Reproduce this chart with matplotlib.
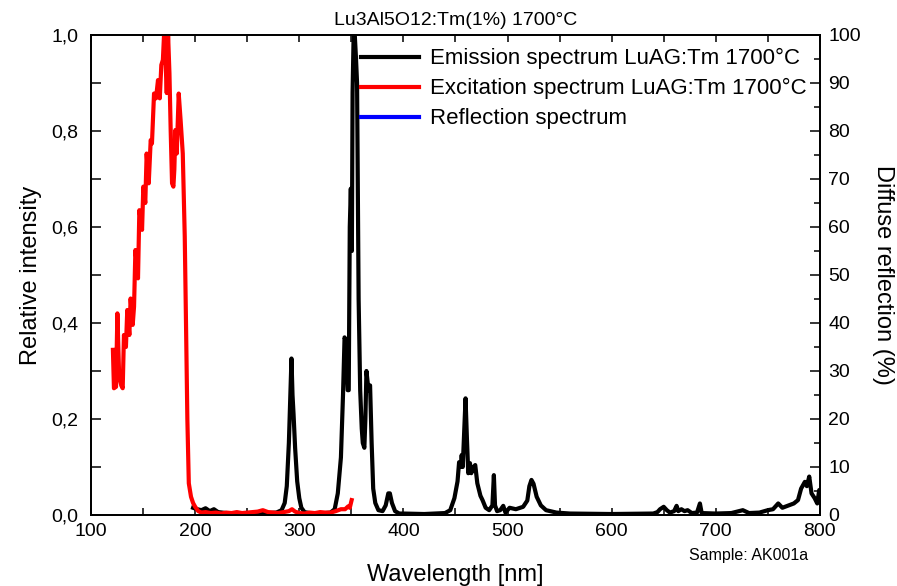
import matplotlib
matplotlib.use("Agg")
import matplotlib.pyplot as plt
from matplotlib.ticker import MultipleLocator, FuncFormatter

plt.rcParams['font.family'] = ['Liberation Sans', 'DejaVu Sans']

# Emission spectrum (nm, relative intensity)
em_wl = [198, 202, 206, 210, 214, 218, 222, 230, 240, 250, 260, 270, 278, 283, 286, 288, 290, 291.5,
         292.5, 293.5, 294.5, 296, 298, 300, 302, 305, 310, 320, 330, 334, 337, 340, 342, 343.5, 345,
         346.5, 347.5, 348.5, 349.5, 350.5, 351.2, 352.2, 353.3, 354.5, 355.5, 357, 358.5, 360, 361,
         362.5, 363.5, 364.5, 365.5, 366.5, 368, 369.5, 371, 373, 376, 380, 383, 385.5, 387, 389, 392,
         396, 400, 420, 440, 445, 449, 452, 453.5, 455, 456, 457, 458.5, 459.7, 461, 462.3, 463.9,
         465.2, 467.4, 469, 471, 474, 476, 479, 482.4, 485.5, 486.9, 488, 490, 493, 495.9, 498, 502,
         508, 515, 519, 521, 523, 525, 528, 532, 537, 547, 560, 600, 640, 644, 646.5, 650, 653, 656,
         660, 662.4, 664, 667, 670, 673, 677, 682, 684.8, 686.5, 700, 715, 726, 732, 742, 750, 755,
         760, 764, 770, 775, 779, 782, 785.6, 787.5, 789.8, 792, 795, 797.5, 799.4, 801]
em_int = [0.015, 0.012, 0.010, 0.014, 0.008, 0.012, 0.006, 0.004, 0.003, 0.004, 0.003, 0.004, 0.005,
          0.010, 0.025, 0.060, 0.15, 0.26, 0.326, 0.25, 0.21, 0.14, 0.07, 0.035, 0.015, 0.006, 0.004,
          0.003, 0.005, 0.012, 0.045, 0.12, 0.25, 0.37, 0.36, 0.26, 0.26, 0.60, 0.68, 0.55, 0.88, 1.0,
          1.0, 0.95, 0.90, 0.45, 0.26, 0.18, 0.15, 0.14, 0.20, 0.30, 0.28, 0.26, 0.27, 0.15, 0.055,
          0.025, 0.010, 0.008, 0.02, 0.045, 0.045, 0.025, 0.008, 0.003, 0.003, 0.002, 0.004, 0.010,
          0.035, 0.07, 0.11, 0.10, 0.125, 0.10, 0.18, 0.243, 0.16, 0.087, 0.108, 0.087, 0.10, 0.104,
          0.066, 0.04, 0.031, 0.015, 0.010, 0.02, 0.083, 0.02, 0.008, 0.010, 0.019, 0.005, 0.015,
          0.012, 0.017, 0.03, 0.06, 0.073, 0.065, 0.038, 0.02, 0.010, 0.005, 0.003, 0.002, 0.003,
          0.006, 0.012, 0.017, 0.010, 0.005, 0.008, 0.019, 0.008, 0.012, 0.008, 0.010, 0.004, 0.005,
          0.024, 0.004, 0.003, 0.004, 0.010, 0.004, 0.005, 0.010, 0.012, 0.024, 0.015, 0.020, 0.024,
          0.031, 0.055, 0.069, 0.06, 0.08, 0.045, 0.035, 0.024, 0.052, 0.045]

# Excitation spectrum (nm, relative intensity)
ex_wl = [121, 122, 124, 125.3, 127, 129, 130.4, 131.6, 133.5, 134.8, 136.8, 138, 140, 141.3, 142.6,
         144, 145.1, 146.4, 149, 150.2, 152.1, 153.4, 155.4, 157.3, 158.5, 160.5, 162.4, 164.3, 166,
         167.5, 169, 170.1, 171.5, 172.7, 174, 175.3, 176.5, 177.8, 179.1, 180, 181, 182.3, 184.2, 186,
         188.1, 190, 191.3, 192.5, 193.9, 196, 198, 200, 203, 206, 210, 215, 220, 225, 230, 235, 240,
         245, 250, 255, 260, 265, 270, 275, 280, 285, 290, 293, 296, 300, 305, 310, 315, 320, 325, 330,
         335, 340, 344, 347, 348.5, 350.3]
ex_int = [0.344, 0.264, 0.267, 0.42, 0.288, 0.27, 0.264, 0.375, 0.35, 0.427, 0.375, 0.451, 0.396,
          0.434, 0.552, 0.52, 0.493, 0.635, 0.594, 0.684, 0.65, 0.753, 0.691, 0.781, 0.774, 0.878,
          0.868, 0.906, 0.868, 0.9375, 0.948, 1.0, 0.95, 0.879, 1.0, 0.92, 0.80, 0.691, 0.684, 0.72,
          0.802, 0.753, 0.878, 0.823, 0.753, 0.58, 0.385, 0.20, 0.066, 0.038, 0.025, 0.017, 0.008,
          0.005, 0.006, 0.004, 0.005, 0.003, 0.005, 0.004, 0.006, 0.004, 0.005, 0.006, 0.007, 0.010,
          0.006, 0.005, 0.004, 0.006, 0.008, 0.012, 0.007, 0.004, 0.003, 0.005, 0.004, 0.006, 0.005,
          0.005, 0.008, 0.012, 0.012, 0.018, 0.015, 0.031]

# Reflection spectrum (no visible data)
refl_wl = []
refl_val = []

x_ticks = [100, 200, 300, 400, 500, 600, 700, 800]
y_ticks = [0.0, 0.2, 0.4, 0.6, 0.8, 1.0]
y2_ticks = [0, 10, 20, 30, 40, 50, 60, 70, 80, 90, 100]

fig = plt.figure(figsize=(8.97, 5.86), dpi=100)
ax = fig.add_axes([0.1015, 0.1212, 0.8125, 0.8191])
ax2 = ax.twinx()

l1, = ax.plot(em_wl, em_int, color='black', lw=3.0, label='Emission spectrum LuAG:Tm 1700°C', zorder=2)
l2, = ax.plot(ex_wl, ex_int, color='#ff0000', lw=3.0, label='Excitation spectrum LuAG:Tm 1700°C', zorder=3)
l3, = ax2.plot(refl_wl, refl_val, color='#0000ff', lw=3.0, label='Reflection spectrum')

ax.set_xlim(100, 800)
ax.set_ylim(0, 1.0)
ax2.set_ylim(0, 100)
ax.set_xticks(x_ticks)
ax.xaxis.set_minor_locator(MultipleLocator(50))
ax.set_yticks(y_ticks)
ax.yaxis.set_minor_locator(MultipleLocator(0.1))
ax.yaxis.set_major_formatter(FuncFormatter(lambda v, p: f"{v:.1f}".replace('.', ',')))
ax2.set_yticks(y2_ticks)
ax2.yaxis.set_minor_locator(MultipleLocator(5))

ax.tick_params(axis='both', which='both', direction='in', labelsize=14, width=1.1)
ax.tick_params(axis='x', which='both', top=True, length=5)
ax.tick_params(axis='y', which='both', right=False, length=7)
ax.tick_params(axis='x', which='major', pad=6)
ax.tick_params(axis='y', which='major', pad=9)
ax2.tick_params(axis='y', which='major', direction='in', length=7, width=1.1, labelsize=14, pad=6)
ax2.tick_params(axis='y', which='minor', direction='in', length=4, width=1.1)

for a in (ax, ax2):
    for s in a.spines.values():
        s.set_linewidth(1.3)

ax.set_xlabel('Wavelength [nm]', fontsize=17, labelpad=17)
ax.set_ylabel('Relative intensity', fontsize=17, labelpad=7)
ax2.set_ylabel('Diffuse reflection (%)', fontsize=17, rotation=270, labelpad=24)
ax.set_title('Lu3Al5O12:Tm(1%) 1700°C', fontsize=14, pad=7)

fig.text(0.901, 0.052, 'Sample: AK001a', fontsize=11.5, ha='right', va='center')

leg = ax.legend(handles=[l1, l2, l3], loc='upper right', frameon=False, fontsize=16,
                handlelength=2.6, handletextpad=0.5, labelspacing=0.4,
                borderaxespad=0.2, bbox_to_anchor=(1.0, 1.0))
for h in leg.get_lines():
    h.set_linewidth(3.0)

fig.savefig('out.png', dpi=100)
